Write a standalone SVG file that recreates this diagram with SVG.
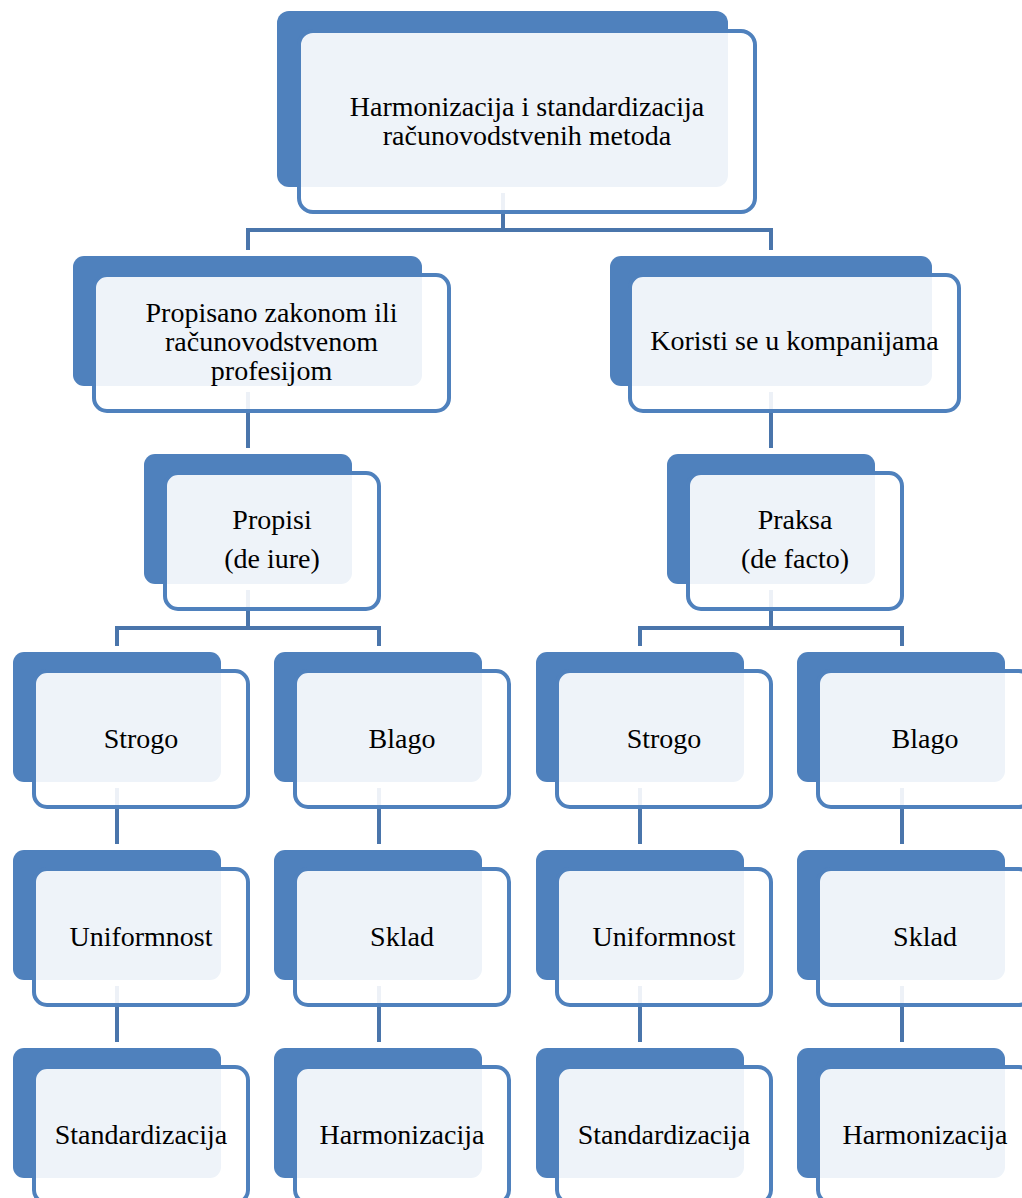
<svg xmlns="http://www.w3.org/2000/svg" width="1022" height="1198" viewBox="0 0 1022 1198">
<style>
.back{fill:#4F81BD}
.front{fill:#FFFFFF;fill-opacity:0.9;stroke:#4F81BD;stroke-width:4}
.conn{fill:none;stroke:#4A75AB;stroke-width:4}
text{font-family:"Liberation Serif","Times New Roman",serif;font-size:28px;fill:#000;text-anchor:middle}
</style>
<rect width="1022" height="1198" fill="#FFFFFF"/>
<g id="connectors">
<path class="conn" d="M503,193 V230 M248,250 V230 H771 V250"/>
<path class="conn" d="M248,392 V448 M771,392 V448"/>
<path class="conn" d="M248,590 V628 M117,646 V628 H379 V646"/>
<path class="conn" d="M771,590 V628 M640,646 V628 H902 V646"/>
<path class="conn" d="M117,788 V844 M379,788 V844 M640,788 V844 M902,788 V844"/>
<path class="conn" d="M117,986 V1042 M379,986 V1042 M640,986 V1042 M902,986 V1042"/>
</g>
<g id="n-top">
<rect class="back" x="277" y="11" width="451" height="176" rx="12"/>
<rect class="front" x="299" y="31" width="456" height="181" rx="14"/>
<text x="527" y="116">Harmonizacija i standardizacija</text>
<text x="527" y="145">računovodstvenih metoda</text>
</g>
<g id="n-propisano">
<rect class="back" x="73" y="256" width="349" height="130" rx="11"/>
<rect class="front" x="94" y="275" width="355" height="136" rx="13"/>
<text x="271.5" y="322">Propisano zakonom ili</text>
<text x="271.5" y="351">računovodstvenom</text>
<text x="271.5" y="380">profesijom</text>
</g>
<g id="n-koristi">
<rect class="back" x="610" y="256" width="322" height="130" rx="11"/>
<rect class="front" x="630" y="275" width="329" height="136" rx="13"/>
<text x="794.5" y="350">Koristi se u kompanijama</text>
</g>
<g id="n-propisi">
<rect class="back" x="144" y="454" width="208" height="130" rx="11"/>
<rect class="front" x="165" y="473" width="214" height="136" rx="13"/>
<text x="272" y="529">Propisi</text>
<text x="272" y="568">(de iure)</text>
</g>
<g id="n-praksa">
<rect class="back" x="667" y="454" width="208" height="130" rx="11"/>
<rect class="front" x="688" y="473" width="214" height="136" rx="13"/>
<text x="795" y="529">Praksa</text>
<text x="795" y="568">(de facto)</text>
</g>
<g id="n-strogo-l">
<rect class="back" x="13" y="652" width="208" height="130" rx="11"/>
<rect class="front" x="34" y="671" width="214" height="136" rx="13"/>
<text x="141" y="748">Strogo</text>
</g>
<g id="n-blago-l">
<rect class="back" x="274" y="652" width="208" height="130" rx="11"/>
<rect class="front" x="295" y="671" width="214" height="136" rx="13"/>
<text x="402" y="748">Blago</text>
</g>
<g id="n-strogo-r">
<rect class="back" x="536" y="652" width="208" height="130" rx="11"/>
<rect class="front" x="557" y="671" width="214" height="136" rx="13"/>
<text x="664" y="748">Strogo</text>
</g>
<g id="n-blago-r">
<rect class="back" x="797" y="652" width="208" height="130" rx="11"/>
<rect class="front" x="818" y="671" width="214" height="136" rx="13"/>
<text x="925" y="748">Blago</text>
</g>
<g id="n-uniform-l">
<rect class="back" x="13" y="850" width="208" height="130" rx="11"/>
<rect class="front" x="34" y="869" width="214" height="136" rx="13"/>
<text x="141" y="946">Uniformnost</text>
</g>
<g id="n-sklad-l">
<rect class="back" x="274" y="850" width="208" height="130" rx="11"/>
<rect class="front" x="295" y="869" width="214" height="136" rx="13"/>
<text x="402" y="946">Sklad</text>
</g>
<g id="n-uniform-r">
<rect class="back" x="536" y="850" width="208" height="130" rx="11"/>
<rect class="front" x="557" y="869" width="214" height="136" rx="13"/>
<text x="664" y="946">Uniformnost</text>
</g>
<g id="n-sklad-r">
<rect class="back" x="797" y="850" width="208" height="130" rx="11"/>
<rect class="front" x="818" y="869" width="214" height="136" rx="13"/>
<text x="925" y="946">Sklad</text>
</g>
<g id="n-stand-l">
<rect class="back" x="13" y="1048" width="208" height="130" rx="11"/>
<rect class="front" x="34" y="1067" width="214" height="136" rx="13"/>
<text x="141" y="1144">Standardizacija</text>
</g>
<g id="n-harm-l">
<rect class="back" x="274" y="1048" width="208" height="130" rx="11"/>
<rect class="front" x="295" y="1067" width="214" height="136" rx="13"/>
<text x="402" y="1144">Harmonizacija</text>
</g>
<g id="n-stand-r">
<rect class="back" x="536" y="1048" width="208" height="130" rx="11"/>
<rect class="front" x="557" y="1067" width="214" height="136" rx="13"/>
<text x="664" y="1144">Standardizacija</text>
</g>
<g id="n-harm-r">
<rect class="back" x="797" y="1048" width="208" height="130" rx="11"/>
<rect class="front" x="818" y="1067" width="214" height="136" rx="13"/>
<text x="925" y="1144">Harmonizacija</text>
</g>
</svg>
